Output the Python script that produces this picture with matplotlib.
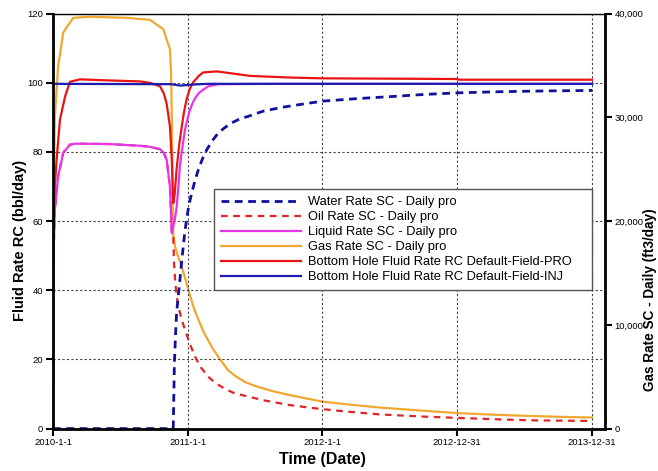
import numpy as np
import matplotlib
matplotlib.use("Agg")
import matplotlib.pyplot as plt
from matplotlib.ticker import FuncFormatter

plt.rcParams['font.family'] = ['Liberation Sans', 'DejaVu Sans']

start = np.datetime64('2010-01-01')

# days since 2010-01-01
water_d = [0, 324, 326, 329, 332, 335, 340, 344, 348, 353, 357, 362, 368, 376, 385, 394, 405, 417, 432,
           448, 465, 484, 505, 529, 550, 570, 620, 680, 730, 820, 913, 1000, 1095, 1200, 1300, 1461]
water_v = [0, 0, 0.5, 18.8, 27, 33.3, 39, 43, 47.5, 52.6, 56.5, 60.4, 64.5, 68.1, 71.8, 74.9, 78, 80.7,
           83.3, 85.5, 87, 88.4, 89.5, 90.3, 91.1, 91.8, 92.9, 93.9, 94.7, 95.4, 96.0, 96.6, 97.1, 97.4,
           97.6, 97.8]

oil_d = [0, 2, 5, 14, 28, 46, 60, 150, 236, 263, 290, 300, 308, 317, 322, 326, 328, 331, 335, 340, 349,
         358, 371, 385, 400, 421, 440, 466, 490, 520, 570, 642, 700, 759, 820, 886, 1000, 1095, 1200,
         1293, 1461]
oil_v = [40, 52, 63, 73, 79.8, 82.1, 82.4, 82.3, 81.8, 81.5, 80.8, 79.8, 77.8, 70, 56.5, 55.5, 48, 43,
         38.5, 35.2, 31.5, 28.5, 24.5, 20.8, 17.8, 15, 13.2, 11.5, 10.3, 9.5, 8.2, 6.8, 6.0, 5.3, 4.7,
         4.1, 3.5, 3.1, 2.7, 2.4, 2.2]

liq_d = [0, 2, 5, 14, 28, 46, 60, 150, 236, 263, 290, 300, 308, 317, 322, 331, 335, 340, 344, 349, 357,
         362, 370, 379, 385, 395, 407, 421, 448, 600, 1461]
liq_v = [40, 52, 63, 73, 79.8, 82.1, 82.4, 82.3, 81.8, 81.5, 80.8, 79.8, 77.8, 70, 56.5, 61, 64, 70, 76,
         80, 86, 88.5, 91.8, 94.3, 95.5, 97, 98, 99, 99.6, 99.7, 99.7]

# gas in ft3/day (right axis)
gas_d = [0, 1, 2, 5, 14, 28, 55, 100, 200, 263, 299, 310, 317, 320, 322, 324, 326, 331, 340, 349, 358,
         367, 380, 394, 410, 430, 450, 475, 497, 520, 545, 570, 596, 650, 730, 800, 886, 1000, 1095, 1200,
         1293, 1380, 1461]
gas_v = [0, 15000, 23300, 30000, 34900, 38200, 39600, 39700, 39600, 39400, 38500, 37300, 36600, 34300,
         30000, 23300, 18700, 17500, 16500, 15600, 14500, 13400, 11800, 10500, 9200, 7900, 6800, 5600,
         5000, 4500, 4150, 3870, 3600, 3170, 2600, 2330, 2030, 1730, 1500, 1330, 1220, 1130, 1070]

pro_d = [0, 2, 5, 10, 19, 33, 46, 73, 150, 236, 263, 290, 300, 308, 317, 322, 326, 330, 335, 342, 349,
         355, 362, 370, 379, 395, 407, 444, 500, 534, 650, 730, 1095, 1100, 1461]
pro_v = [47, 62, 70, 78, 89.4, 96.1, 100.3, 101, 100.7, 100.4, 100, 99, 97, 94, 87.4, 77.8, 65.2, 68,
         75, 82, 87.4, 91.5, 95.2, 98, 100, 102, 103, 103.3, 102.5, 102, 101.5, 101.3, 101.1, 100.9, 100.9]

inj_d = [0, 320, 345, 380, 420, 1461]
inj_v = [99.7, 99.6, 99.2, 99.5, 99.7, 99.7]

xtick_labels = ['2010-1-1', '2011-1-1', '2012-1-1', '2012-12-31', '2013-12-31']
xtick_dates = ['2010-01-01', '2011-01-01', '2012-01-01', '2012-12-31', '2013-12-31']


def to_dates(d):
    return start + np.array(d).astype('timedelta64[D]')


fig = plt.figure(figsize=(6.58, 4.71), dpi=100)
ax2 = fig.add_axes([0.0805, 0.090, 0.839, 0.881])
ax1 = fig.add_axes([0.0805, 0.090, 0.839, 0.881], sharex=ax2)
ax1.patch.set_visible(False)
ax2.yaxis.tick_right()
ax2.yaxis.set_label_position('right')
ax2.xaxis.set_visible(False)

l_gas, = ax2.plot(to_dates(gas_d), gas_v, color='#f0a830', lw=1.6, label='Gas Rate SC - Daily pro')
l_oil, = ax1.plot(to_dates(oil_d), oil_v, color='#e02525', lw=1.6, ls=(0, (3, 2.5)),
                  label='Oil Rate SC - Daily pro')
l_liq, = ax1.plot(to_dates(liq_d), liq_v, color='#e535e5', lw=1.6, label='Liquid Rate SC - Daily pro')
l_pro, = ax1.plot(to_dates(pro_d), pro_v, color='#e81515', lw=1.6,
                  label='Bottom Hole Fluid Rate RC Default-Field-PRO')
l_inj, = ax1.plot(to_dates(inj_d), inj_v, color='#1c1cb4', lw=1.6,
                  label='Bottom Hole Fluid Rate RC Default-Field-INJ')
l_wat, = ax1.plot(to_dates(water_d), water_v, color='#10109a', lw=2.0, ls=(0, (2.8, 2.0)),
                  label='Water Rate SC - Daily pro')

ax1.set_xlim(start, start + np.timedelta64(1496, 'D'))
ax1.set_ylim(0, 120)
ax2.set_ylim(0, 40000)

ax1.set_xticks(np.array(xtick_dates, dtype='datetime64[D]'))
ax1.set_xticklabels(xtick_labels)
ax1.set_yticks(range(0, 121, 20))
ax2.set_yticks(range(0, 40001, 10000))
ax2.yaxis.set_major_formatter(FuncFormatter(lambda v, p: '{:,.0f}'.format(v)))

for ax in (ax1, ax2):
    ax.tick_params(labelsize=6.8, length=5, width=1.5, direction='out', colors='black', pad=2)
    for s in ax.spines.values():
        s.set_visible(False)

ax1.spines['left'].set_visible(True)
ax1.spines['left'].set_linewidth(2)
ax1.spines['bottom'].set_visible(True)
ax1.spines['bottom'].set_linewidth(2)
ax1.spines['top'].set_visible(True)
ax1.spines['top'].set_linewidth(1)
ax2.spines['right'].set_visible(True)
ax2.spines['right'].set_linewidth(2)

ax1.grid(True, color='#444444', ls=(0, (2, 2)), lw=0.8)

ax1.set_xlabel('Time (Date)', fontsize=11.5, fontweight='bold')
ax1.xaxis.set_label_coords(0.489, -0.056)
ax1.set_ylabel('Fluid Rate RC (bbl/day)', fontsize=10.5, fontweight='bold')
ax1.yaxis.set_label_coords(-0.047, 0.454)
ax2.set_ylabel('Gas Rate SC - Daily (ft3/day)', fontsize=9.8, fontweight='bold')
ax2.yaxis.set_label_coords(1.068, 0.31)

handles = [l_wat, l_oil, l_liq, l_gas, l_pro, l_inj]
leg = ax1.legend(handles=handles, loc='upper left', mode='expand',
                 bbox_to_anchor=(0.2917, 0.5775, 0.685, 0.0), fontsize=9.3,
                 handlelength=6.2, handletextpad=0.5, labelspacing=0.23, borderpad=0.55,
                 borderaxespad=0, fancybox=False, framealpha=1, edgecolor='#555555')
leg.get_frame().set_linewidth(1)
leg.set_zorder(10)

fig.savefig('out.png', dpi=100)
